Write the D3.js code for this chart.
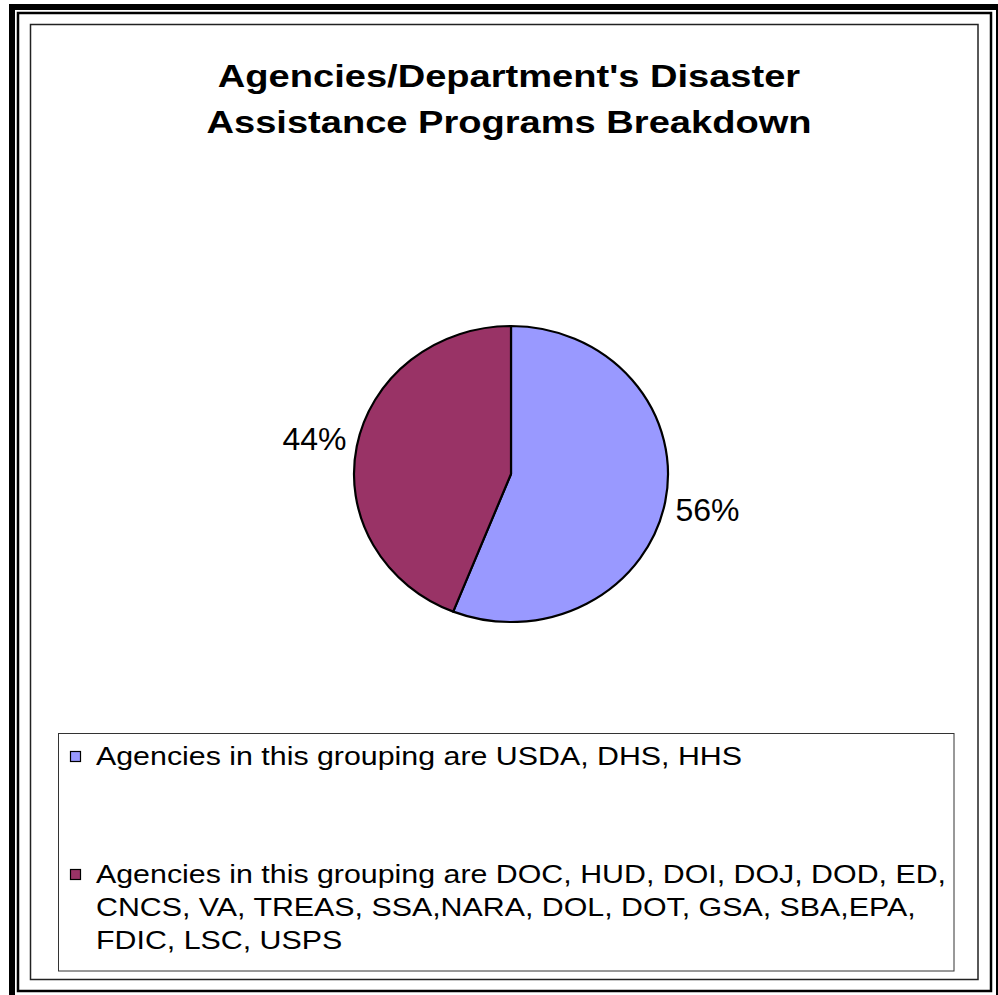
<!DOCTYPE html>
<html>
<head>
<meta charset="utf-8">
<script src="https://cdn.jsdelivr.net/npm/d3@7.9.0/dist/d3.min.js"></script>
<style>
  body { margin: 0; background: #fff; }
  svg { display: block; font-family: "Liberation Sans", Arial, sans-serif; }
</style>
</head>
<body>
<svg id="chart" width="998" height="995"></svg>
<script>
const titleLines = ["Agencies/Department's Disaster", "Assistance Programs Breakdown"];
const categories = [
  "Agencies in this grouping are USDA, DHS, HHS",
  "Agencies in this grouping are DOC, HUD, DOI, DOJ, DOD, ED, CNCS, VA, TREAS, SSA,NARA, DOL, DOT, GSA, SBA,EPA, FDIC, LSC, USPS"
];
const values = [56, 44];
const colors = ["#9999FF", "#993366"];

const svg = d3.select('#chart');
// text in the original is drawn wider than normal
const titleStretch = 1.19;
const legendStretch = 1.168;

// frames
svg.append('rect').attr('x', 12).attr('y', 7).attr('width', 987).attr('height', 992)
  .attr('fill', 'none').attr('stroke', '#000').attr('stroke-width', 6);
svg.append('rect').attr('x', 18).attr('y', 13).attr('width', 973).attr('height', 978)
  .attr('fill', 'none').attr('stroke', '#000').attr('stroke-width', 2.5);
svg.append('rect').attr('x', 30.5).attr('y', 24.5).attr('width', 947.5).attr('height', 955)
  .attr('fill', '#fff').attr('stroke', '#222').attr('stroke-width', 1.5);

// title
svg.append('g')
  .attr('transform', `translate(509,0) scale(${titleStretch},1)`)
  .append('text')
  .attr('text-anchor', 'middle')
  .attr('font-size', 32).attr('font-weight', 'bold')
  .selectAll('tspan').data(titleLines).join('tspan')
  .attr('x', 0).attr('y', (d, i) => 87 + i * 46)
  .text(d => d);

// pie (slightly squashed vertically, like the original)
const cx = 511, cy = 474, rx = 157, ry = 148;
const pie = d3.pie().sort(null).value(d => d);
const arcs = pie(values);
const arc = d3.arc().innerRadius(0).outerRadius(rx);
const labelArc = d3.arc().innerRadius(200).outerRadius(200);

const pieG = svg.append('g')
  .attr('transform', `translate(${cx},${cy}) scale(1,${ry / rx})`);
pieG.selectAll('path').data(arcs).join('path')
  .attr('d', arc)
  .attr('fill', (d, i) => colors[i])
  .attr('stroke', '#000')
  .attr('stroke-width', 2.2)
  .attr('stroke-linejoin', 'round')
  .attr('vector-effect', 'non-scaling-stroke');

svg.append('g').selectAll('text').data(arcs).join('text')
  .attr('x', d => cx + labelArc.centroid(d)[0])
  .attr('y', d => cy + labelArc.centroid(d)[1] * ry / rx)
  .attr('dy', '0.36em')
  .attr('text-anchor', 'middle')
  .attr('font-size', 32)
  .text(d => Math.round(d.value / d3.sum(values) * 100) + '%');

// legend
svg.append('rect').attr('x', 58.5).attr('y', 733.5).attr('width', 895.5).attr('height', 237.5)
  .attr('fill', '#fff').attr('stroke', '#333').attr('stroke-width', 1);

const legendTop = [765, 883];
const lineHeight = 33;
const maxWidth = 870 / legendStretch;

categories.forEach((label, i) => {
  svg.append('rect')
    .attr('x', 70.5).attr('y', legendTop[i] - 13.5)
    .attr('width', 10).attr('height', 10)
    .attr('fill', colors[i]).attr('stroke', '#000').attr('stroke-width', 1.2);

  const text = svg.append('g')
    .attr('transform', `translate(96,0) scale(${legendStretch},1)`)
    .append('text').attr('font-size', 26);
  const words = label.split(' ');
  let line = [];
  let lineNo = 0;
  let tspan = text.append('tspan').attr('x', 0).attr('y', legendTop[i]);
  words.forEach(w => {
    line.push(w);
    tspan.text(line.join(' '));
    if (tspan.node().getComputedTextLength() > maxWidth && line.length > 1) {
      line.pop();
      tspan.text(line.join(' '));
      line = [w];
      lineNo++;
      tspan = text.append('tspan').attr('x', 0)
        .attr('y', legendTop[i] + lineNo * lineHeight).text(w);
    }
  });
});
</script>
</body>
</html>
